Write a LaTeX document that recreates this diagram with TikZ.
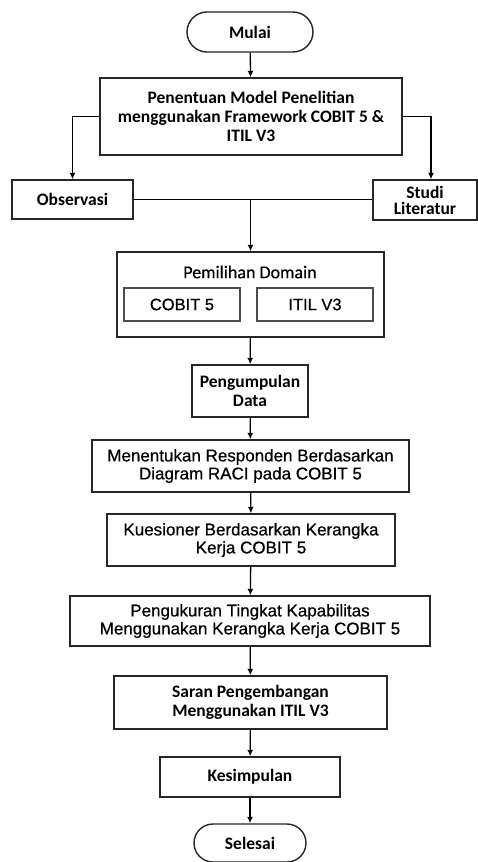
\documentclass[tikz,border=0pt]{standalone}
\usepackage{fontspec}
\setmainfont{Liberation Sans}[FakeBold=0.6]
\newfontfamily\calfont{Carlito}
\newfontfamily\calmedium{Carlito}[FakeBold=0.5]
\usetikzlibrary{shapes,arrows.meta,positioning,calc}

\begin{document}
\begin{tikzpicture}[
    x=1pt, y=-1pt,
    box/.style={rectangle, draw=black!85, line width=1.4pt, inner sep=2pt, align=center, font=\fontsize{17}{18}\selectfont},
    calbox/.style={box, font=\calfont\bfseries\fontsize{17.5}{19}\selectfont},
    subbox/.style={box, draw=black!70, line width=1.7pt, minimum width=116pt, minimum height=33pt, font=\fontsize{16.5}{18}\selectfont},
    terminal/.style={calbox, rounded rectangle, minimum width=130pt, minimum height=40pt},
    arrow/.style={-{Latex[length=6.5pt,width=6pt]}, line width=1.3pt}
]
\useasboundingbox (0,0) rectangle (477,862);

% Start
\node[terminal] (mulai) at (250,32) {Mulai};

% Research model
\node[calbox, minimum width=302pt, minimum height=77pt] (model) at (251,116.5) {Penentuan Model Penelitian\\menggunakan Framework COBIT 5 \&\\ITIL V3};

% Two inputs
\node[calbox, minimum width=121pt, minimum height=39pt] (observasi) at (72.5,199.5) {Observasi};
\node[calbox, minimum width=104pt, minimum height=40pt, font=\calfont\bfseries\fontsize{17.5}{16}\selectfont] (studi) at (425,200) {Studi\\Literatur};

\draw[arrow] (mulai) -- (model);
\draw[arrow] (model.west) -| (observasi.north);
\draw[arrow] (model.east) -| ([xshift=6pt]studi.north);
\draw[line width=1.3pt] (observasi.east) -- (observasi.east -| studi.west);

% Domain selection
\node[box, minimum width=267pt, minimum height=85pt] (domain) at (250.5,294.5) {};
\node[font=\calmedium\fontsize{18}{20}\selectfont] (domainlabel) at (250,272) {Pemilihan Domain};
\node[subbox] (cobit) at (182,304.5) {COBIT 5};
\node[subbox] (itil) at (315,304.5) {ITIL V3};

\draw[arrow] (observasi.east -| domain.north) -- (domain.north);

% Main steps
\node[calbox, minimum width=116pt, minimum height=52pt] (data) at (250,391) {Pengumpulan\\Data};
\node[box, minimum width=317pt, minimum height=52pt] (responden) at (250.5,466) {Menentukan Responden Berdasarkan\\Diagram RACI pada COBIT 5};
\node[box, minimum width=288pt, minimum height=52pt] (kuesioner) at (251,540) {Kuesioner Berdasarkan Kerangka\\Kerja COBIT 5};
\node[box, minimum width=360pt, minimum height=50pt] (kapabilitas) at (250,621) {Pengukuran Tingkat Kapabilitas\\Menggunakan Kerangka Kerja COBIT 5};
\node[calbox, minimum width=273pt, minimum height=53pt] (saran) at (250.5,702.5) {Saran Pengembangan\\Menggunakan ITIL V3};
\node[calbox, minimum width=180pt, minimum height=40pt] (kesimpulan) at (250,777) {Kesimpulan};

% End
\node[terminal, minimum width=116pt, minimum height=38pt] (selesai) at (250,843) {Selesai};

\draw[arrow] (domain) -- (data);
\draw[arrow] (data) -- (responden);
\draw[arrow] (responden) -- (kuesioner);
\draw[arrow] (kuesioner) -- (kapabilitas);
\draw[arrow] (kapabilitas) -- (saran);
\draw[arrow] (saran) -- (kesimpulan);
\draw[arrow] (kesimpulan) -- (selesai);

\end{tikzpicture}
\end{document}
